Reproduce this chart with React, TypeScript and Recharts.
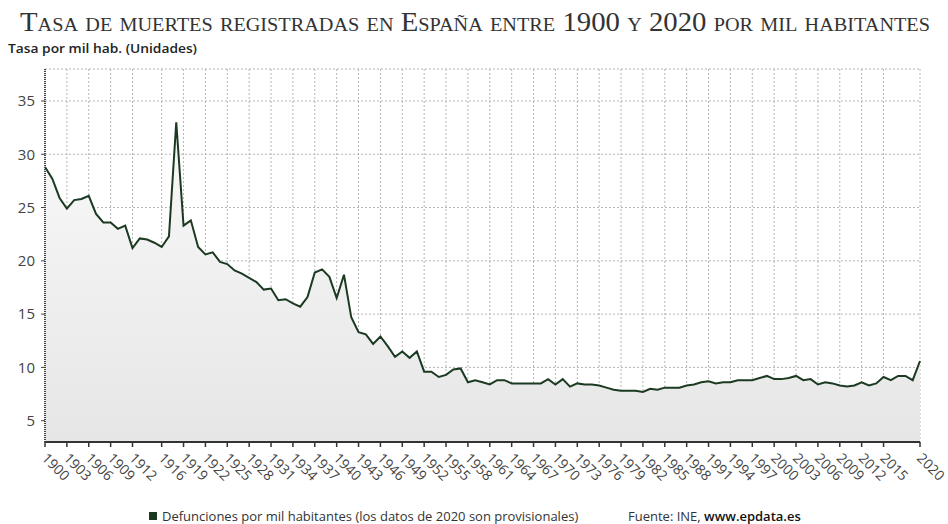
import React from 'react';
import {
  ComposedChart,
  Area,
  Line,
  XAxis,
  YAxis,
  CartesianGrid,
} from 'recharts';

// Tasa bruta de mortalidad (por mil habitantes), 1900-2020
const FIRST_YEAR = 1900;
const DEATH_RATE = [
  28.8, 27.7, 25.9, 24.9, 25.7, 25.8, 26.1, 24.4, 23.6, 23.6, // 1900
  23.0, 23.3, 21.2, 22.1, 22.0, 21.7, 21.3, 22.3, 33.0, 23.3, // 1910
  23.8, 21.3, 20.6, 20.8, 19.9, 19.7, 19.1, 18.8, 18.4, 18.0, // 1920
  17.3, 17.4, 16.3, 16.4, 16.0, 15.7, 16.6, 18.9, 19.2, 18.5, // 1930
  16.5, 18.7, 14.7, 13.3, 13.1, 12.2, 12.9, 12.0, 11.0, 11.5, // 1940
  10.9, 11.5, 9.6, 9.6, 9.1, 9.3, 9.8, 9.9, 8.6, 8.8, // 1950
  8.6, 8.4, 8.8, 8.8, 8.5, 8.5, 8.5, 8.5, 8.5, 8.9, // 1960
  8.4, 8.9, 8.2, 8.5, 8.4, 8.4, 8.3, 8.1, 7.9, 7.8, // 1970
  7.8, 7.8, 7.7, 8.0, 7.9, 8.1, 8.1, 8.1, 8.3, 8.4, // 1980
  8.6, 8.7, 8.5, 8.6, 8.6, 8.8, 8.8, 8.8, 9.0, 9.2, // 1990
  8.9, 8.9, 9.0, 9.2, 8.8, 8.9, 8.4, 8.6, 8.5, 8.3, // 2000
  8.2, 8.3, 8.6, 8.3, 8.5, 9.1, 8.8, 9.2, 9.2, 8.8, // 2010
  10.6, // 2020
];

const X_TICKS = [
  1900, 1903, 1906, 1909, 1912, 1916, 1919, 1922, 1925, 1928, 1931, 1934,
  1937, 1940, 1943, 1946, 1949, 1952, 1955, 1958, 1961, 1964, 1967, 1970,
  1973, 1976, 1979, 1982, 1985, 1988, 1991, 1994, 1997, 2000, 2003, 2006,
  2009, 2012, 2015, 2020,
];
const Y_TICKS = [5, 10, 15, 20, 25, 30, 35];

const TITLE = 'Tasa de muertes registradas en España entre 1900 y 2020 por mil habitantes';
const Y_TITLE = 'Tasa por mil hab. (Unidades)';
const SERIES_NAME = 'Defunciones por mil habitantes (los datos de 2020 son provisionales)';

const LINE_COLOR = '#1c3a22';
const FONT = '"Open Sans", "DejaVu Sans", sans-serif';

const data = DEATH_RATE.map((v, i) => ({ year: FIRST_YEAR + i, rate: v }));

const XTick = (props: any) => {
  const { x, y, payload } = props;
  return (
    <g transform={`translate(${x - 4},${y + 10})`}>
      <text
        transform="rotate(45)"
        textAnchor="start"
        fontFamily={FONT}
        fontSize={14}
        fill="#444"
      >
        {payload.value}
      </text>
    </g>
  );
};

const App: React.FC = () => {
  return (
    <div style={{ position: 'absolute', left: 0, top: 0, width: 948, height: 524, background: '#fff' }}>
      <ComposedChart
        width={948}
        height={524}
        data={data}
        margin={{ top: 69, right: 28, left: 9, bottom: 22 }}
      >
        <defs>
          <linearGradient id="areaFill" x1="0" y1="0" x2="0" y2="1">
            <stop offset="0%" stopColor="#f9f9f9" />
            <stop offset="100%" stopColor="#e5e6e5" />
          </linearGradient>
        </defs>
        <CartesianGrid stroke="#b5b5b5" strokeDasharray="2 2" />
        <XAxis
          dataKey="year"
          type="number"
          domain={[1900, 2020]}
          ticks={X_TICKS}
          interval={0}
          height={60}
          axisLine={{ stroke: '#333', strokeWidth: 2 }}
          tickLine={{ stroke: '#333', strokeWidth: 1.5 }}
          tickSize={5}
          tick={<XTick />}
        />
        <YAxis
          type="number"
          domain={[3, 38]}
          ticks={Y_TICKS}
          width={36}
          axisLine={{ stroke: '#444', strokeWidth: 2, strokeDasharray: '1 1' }}
          tickLine={{ stroke: '#444' }}
          tickSize={4}
          tickMargin={6}
          tick={{ fontFamily: FONT, fontSize: 15, fill: '#444' }}
        />
        <Area
          dataKey="rate"
          type="linear"
          baseValue={3}
          fill="url(#areaFill)"
          fillOpacity={1}
          stroke="none"
          isAnimationActive={false}
        />
        <Line
          dataKey="rate"
          type="linear"
          stroke={LINE_COLOR}
          strokeWidth={2}
          dot={false}
          activeDot={false}
          isAnimationActive={false}
        />
      </ComposedChart>
      <svg
        width={948}
        height={524}
        style={{ position: 'absolute', left: 0, top: 0, pointerEvents: 'none' }}
      >
        <text
          x={20}
          y={31}
          textLength={910}
          lengthAdjust="spacingAndGlyphs"
          fontFamily='"Liberation Serif", "DejaVu Serif", serif'
          fontSize={27}
          fill="#333"
          style={{ fontVariant: 'small-caps' }}
        >
          {TITLE}
        </text>
        <text
          x={8}
          y={53}
          textLength={189}
          lengthAdjust="spacingAndGlyphs"
          fontFamily={FONT}
          fontSize={13}
          fontWeight={600}
          fill="#222"
        >
          {Y_TITLE}
        </text>
        <rect x={149} y={512} width={8} height={8} fill={LINE_COLOR} />
        <text x={162} y={521} fontFamily={FONT} fontSize={13} fill="#333">
          {SERIES_NAME}
        </text>
        <text x={628} y={521} fontFamily={FONT} fontSize={13} fill="#333">
          Fuente: INE, <tspan fill="#111" fontWeight={600}>www.epdata.es</tspan>
        </text>
      </svg>
    </div>
  );
};

export default App;
